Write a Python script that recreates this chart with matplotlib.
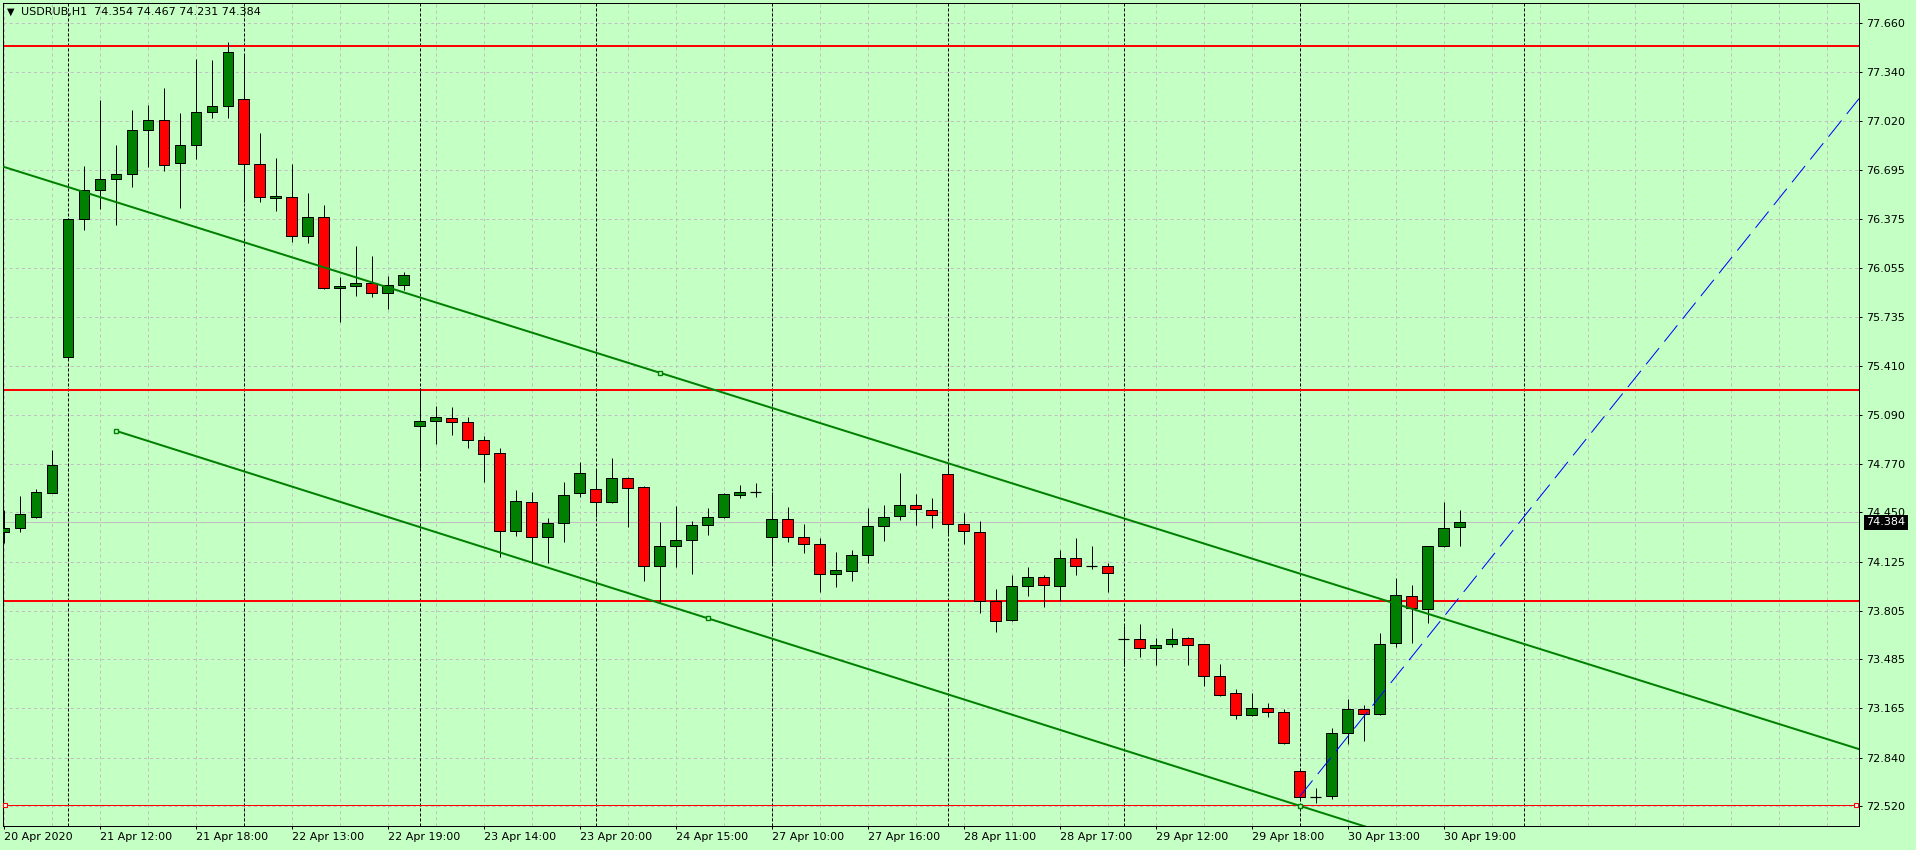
import numpy as np
import matplotlib
matplotlib.use('Agg')
import matplotlib.pyplot as plt
import matplotlib.transforms as mtransforms

plt.rcParams['lines.scale_dashes'] = False
plt.rcParams['font.family'] = ['DejaVu Sans']

# hourly candles USDRUB, bar index 0..91
opens = [74.320, 74.346, 74.422, 74.580, 75.472, 76.374, 76.564, 76.636, 76.669, 76.958,
         77.023, 76.741, 76.859, 77.076, 77.115, 77.161, 76.735, 76.511, 76.518, 76.262,
         76.387, 75.921, 75.934, 75.954, 75.888, 75.940, 75.015, 75.048, 75.067, 75.041,
         74.923, 74.838, 74.326, 74.516, 74.286, 74.378, 74.575, 74.601, 74.516, 74.674,
         74.615, 74.096, 74.227, 74.267, 74.365, 74.418, 74.562, 74.582, 74.286, 74.405,
         74.286, 74.240, 74.044, 74.063, 74.168, 74.359, 74.424, 74.496, 74.464, 74.700,
         74.372, 74.319, 73.866, 73.742, 73.965, 74.024, 73.965, 74.149, 74.096, 74.096,
         73.617, 73.617, 73.558, 73.584, 73.624, 73.584, 73.374, 73.263, 73.118, 73.164,
         73.138, 72.751, 72.585, 72.587, 73.000, 73.158, 73.125, 73.591, 73.899, 73.814,
         74.227, 74.354]
highs = [74.466, 74.558, 74.604, 74.860, 76.380, 76.724, 77.157, 76.859, 77.091, 77.124,
         77.233, 77.069, 77.424, 77.419, 77.535, 77.459, 76.938, 76.776, 76.737, 76.544,
         76.468, 75.993, 76.199, 76.133, 76.002, 76.028, 75.265, 75.148, 75.142, 75.074,
         74.951, 74.871, 74.597, 74.582, 74.411, 74.647, 74.779, 74.728, 74.805, 74.680,
         74.621, 74.385, 74.490, 74.391, 74.477, 74.575, 74.628, 74.641, 74.582, 74.483,
         74.374, 74.280, 74.188, 74.201, 74.477, 74.496, 74.706, 74.569, 74.542, 74.772,
         74.444, 74.391, 73.945, 74.037, 74.090, 74.037, 74.201, 74.282, 74.230, 74.116,
         73.702, 73.715, 73.624, 73.689, 73.630, 73.586, 73.453, 73.289, 73.263, 73.197,
         73.158, 72.753, 72.644, 73.033, 73.223, 73.184, 73.656, 74.017, 73.971, 74.229,
         74.516, 74.467]
lows = [74.251, 74.324, 74.415, 74.578, 75.460, 76.304, 76.444, 76.339, 76.588, 76.719,
        76.693, 76.450, 76.772, 77.041, 77.041, 76.485, 76.490, 76.430, 76.227, 76.220,
        75.914, 75.702, 75.873, 75.866, 75.785, 75.912, 74.739, 74.901, 74.960, 74.875,
        74.652, 74.155, 74.297, 74.120, 74.120, 74.258, 74.549, 74.422, 74.514, 74.356,
        74.002, 73.860, 74.094, 74.048, 74.304, 74.416, 74.542, 74.549, 74.120, 74.258,
        74.186, 73.930, 73.963, 74.002, 74.120, 74.265, 74.398, 74.365, 74.346, 74.313,
        74.245, 73.792, 73.667, 73.740, 73.904, 73.831, 73.866, 74.037, 74.077, 73.925,
        73.440, 73.499, 73.446, 73.565, 73.446, 73.313, 73.248, 73.096, 73.112, 73.105,
        72.933, 72.567, 72.545, 72.567, 72.928, 72.948, 73.123, 73.569, 73.591, 73.722,
        74.225, 74.231]
closes = [74.346, 74.437, 74.582, 74.759, 76.374, 76.564, 76.636, 76.669, 76.958, 77.023,
          76.728, 76.859, 77.076, 77.115, 77.470, 76.735, 76.518, 76.524, 76.262, 76.387,
          75.921, 75.934, 75.954, 75.888, 75.940, 76.006, 75.048, 75.074, 75.041, 74.923,
          74.831, 74.326, 74.523, 74.286, 74.378, 74.562, 74.706, 74.516, 74.674, 74.608,
          74.096, 74.227, 74.267, 74.365, 74.418, 74.569, 74.582, 74.582, 74.405, 74.286,
          74.240, 74.044, 74.070, 74.168, 74.359, 74.418, 74.496, 74.470, 74.431, 74.372,
          74.326, 73.866, 73.735, 73.965, 74.024, 73.971, 74.149, 74.096, 74.096, 74.050,
          73.617, 73.558, 73.578, 73.617, 73.578, 73.374, 73.250, 73.118, 73.164, 73.138,
          72.935, 72.580, 72.585, 73.000, 73.158, 73.125, 73.584, 73.906, 73.820, 74.227,
          74.346, 74.384]

price_ticks = [77.660, 77.340, 77.020, 76.695, 76.375, 76.055, 75.735, 75.410, 75.090,
               74.770, 74.450, 74.125, 73.805, 73.485, 73.165, 72.840, 72.520]
time_tick_bars = [0, 6, 12, 18, 24, 30, 36, 42, 48, 54, 60, 66, 72, 78, 84, 90]
time_labels = ['20 Apr 2020', '21 Apr 12:00', '21 Apr 18:00', '22 Apr 13:00', '22 Apr 19:00',
               '23 Apr 14:00', '23 Apr 20:00', '24 Apr 15:00', '27 Apr 10:00', '27 Apr 16:00',
               '28 Apr 11:00', '28 Apr 17:00', '29 Apr 12:00', '29 Apr 18:00', '30 Apr 13:00',
               '30 Apr 19:00']
day_separators = [4, 15, 26, 37, 48, 59, 70, 81, 95]

levels = [77.511, 75.255, 73.869, 72.528]
upper_line = [(0, 76.718), (41, 75.367)]
lower_line = [(7, 74.986), (44, 73.758), (81, 72.525)]
blue_line = [(81, 72.584), (91, 73.894)]
last_price = 74.384
title = 'USDRUB,H1  74.354 74.467 74.231 74.384'

BG = '#c4ffc4'
W, H = 1916, 850
PX = 0.72  # one pixel in points

fig = plt.figure(figsize=(W / 100, H / 100), dpi=100, facecolor=BG)
ax = fig.add_axes([3 / W, 1 - 826 / H, (1859 - 3) / W, (826 - 2.7) / H])
ax.set_facecolor(BG)
x_max = 115.97
ax.set_xlim(-0.04, x_max)
ax.set_ylim(72.392, 77.795)

# grid
for p in price_ticks:
    ax.axhline(p, color='#c0c0c0', lw=PX, ls=(0, (2.2, 2.2)), zorder=1)
for g in range(0, 117, 3):
    ax.axvline(g, color='#c0c0c0', lw=PX, ls=(0, (2.2, 2.2)), zorder=1)

# day separators
for s in day_separators:
    ax.axvline(s, color='black', lw=PX, ls=(0, (2.2, 1.4)), zorder=2)

# horizontal levels
for k, lv in enumerate(levels):
    ax.axhline(lv, color='#ff0000', lw=2 * PX if k < 3 else PX, zorder=2)
ax.plot([0.1, x_max - 0.2], [levels[3], levels[3]], ls='none', marker='s', ms=3.5,
        mfc='white', mec='#ff0000', mew=0.8, zorder=6, clip_on=False)

# current price line
ax.axhline(last_price, color='#c0c0c0', lw=PX, zorder=2)


def extend(points, x0, x1):
    (a, pa), (b, pb) = points[0], points[-1]
    k = (pb - pa) / (b - a)
    return [x0, x1], [pa + k * (x0 - a), pa + k * (x1 - a)]


xs, ys = extend(upper_line, -1, x_max)
ax.plot(xs, ys, color='#008000', lw=2 * PX, zorder=5)
xs, ys = extend(lower_line, lower_line[0][0], x_max)
ax.plot(xs, ys, color='#008000', lw=2 * PX, zorder=5)
ax.plot([upper_line[1][0]] + [q[0] for q in lower_line],
        [upper_line[1][1]] + [q[1] for q in lower_line],
        ls='none', marker='s', ms=3.5, mfc=BG, mec='#008000', mew=1.0, zorder=6)
xs, ys = extend(blue_line, blue_line[0][0], x_max)
ax.plot(xs, ys, color='#0000ff', lw=PX, ls=(0, (15, 6)), zorder=5)

# candles
o = np.array(opens)
h = np.array(highs)
l = np.array(lows)
c = np.array(closes)
x = np.arange(len(o))
ax.vlines(x, l, h, color='black', lw=PX, zorder=3)
up = c > o
dn = c < o
dj = c == o
ax.bar(x[up], (c - o)[up], bottom=o[up], width=0.64, color='#008000',
       edgecolor='black', lw=PX, zorder=4)
ax.bar(x[dn], (o - c)[dn], bottom=c[dn], width=0.64, color='#ff0000',
       edgecolor='black', lw=PX, zorder=4)
ax.hlines(o[dj], x[dj] - 0.34, x[dj] + 0.34, color='black', lw=PX * 1.2, zorder=4)

# axes
for sp in ax.spines.values():
    sp.set_color('black')
    sp.set_linewidth(PX)
ax.yaxis.tick_right()
ax.set_yticks(price_ticks)
ax.set_yticklabels([f'{p:.3f}' for p in price_ticks])
ax.set_xticks(time_tick_bars)
ax.set_xticklabels(time_labels)
plt.setp(ax.get_xticklabels(), ha='left')
ax.tick_params(axis='y', direction='out', length=2.5, width=PX, pad=2.5, labelsize=8,
               colors='black')
ax.tick_params(axis='x', direction='out', length=2.5, width=PX, pad=2, labelsize=8,
               colors='black')

trans = mtransforms.blended_transform_factory(ax.transAxes, ax.transData)
ax.text(1.0038, last_price, f'{last_price:.3f}', transform=trans, ha='left', va='center',
        color='white', fontsize=8, clip_on=False, zorder=10,
        bbox=dict(boxstyle='square,pad=0.22', fc='black', ec='none'))

fig.text(7 / W, 1 - 12 / H, '\u25bc', fontsize=7, va='center', ha='left', color='black')
fig.text(21 / W, 1 - 12 / H, title, fontsize=8, va='center', ha='left', color='black')

fig.savefig('out.png', dpi=100, facecolor=BG)
